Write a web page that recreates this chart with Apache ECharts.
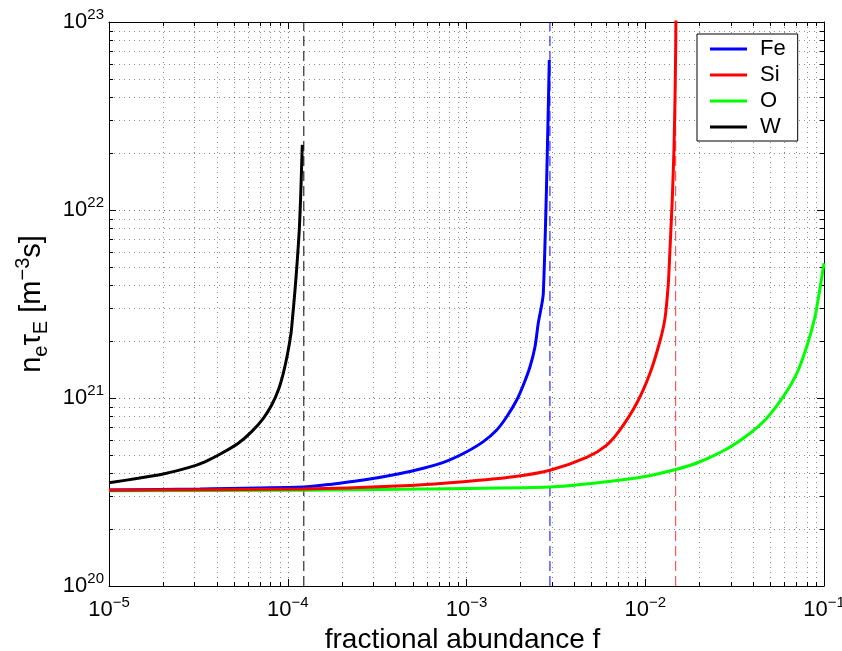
<!DOCTYPE html>
<html>
<head>
<meta charset="utf-8">
<script src="https://cdn.jsdelivr.net/npm/echarts@6/dist/echarts.min.js"></script>
<style>
html,body{margin:0;padding:0;background:#fff;}
#chart{width:842px;height:651px;}
</style>
</head>
<body>
<div id="chart"></div>
<script>
// ---- data ----
const seriesNames = ['Fe', 'Si', 'O', 'W'];

const fFe = [1.0e-5, 3.23e-5, 1.217e-4, 1.723e-4, 2.65e-4, 4.07e-4, 5.73e-4, 7.75e-4, 1.003e-3, 1.242e-3, 1.476e-3, 1.679e-3, 1.91e-3, 2.08e-3, 2.266e-3, 2.417e-3, 2.52e-3, 2.69e-3, 2.905e-3];
const nFe = [3.24e20, 3.28e20, 3.36e20, 3.47e20, 3.66e20, 3.93e20, 4.23e20, 4.62e20, 5.18e20, 5.86e20, 6.76e20, 7.95e20, 9.76e20, 1.173e21, 1.467e21, 1.875e21, 2.50e21, 3.61e21, 6.28e22];

const fSi = [1.0e-5, 1.217e-4, 4.07e-4, 9.60e-4, 1.827e-3, 2.93e-3, 4.70e-3, 6.09e-3, 7.22e-3, 8.96e-3, 1.063e-2, 1.209e-2, 1.29e-2, 1.346e-2, 1.376e-2, 1.417e-2, 1.448e-2, 1.467e-2, 1.48e-2, 1.486e-2];
const nSi = [3.24e20, 3.28e20, 3.40e20, 3.59e20, 3.81e20, 4.13e20, 4.83e20, 5.62e20, 6.76e20, 9.37e20, 1.353e21, 2.01e21, 2.66e21, 4.07e21, 6.25e21, 1.154e22, 2.13e22, 3.93e22, 7.24e22, 1.2e23];

const fO = [1.0e-5, 1.171e-4, 5.50e-4, 2.93e-3, 5.58e-3, 9.75e-3, 1.499e-2, 2.025e-2, 2.856e-2, 3.855e-2, 4.78e-2, 5.92e-2, 7.04e-2, 8.0e-2, 8.91e-2, 9.50e-2, 1.0e-1];
const nO = [3.21e20, 3.23e20, 3.28e20, 3.36e20, 3.55e20, 3.81e20, 4.18e20, 4.58e20, 5.35e20, 6.49e20, 7.80e20, 1.016e21, 1.353e21, 1.875e21, 2.71e21, 3.85e21, 5.21e21];

const fW = [1.0e-5, 1.46e-5, 2.01e-5, 2.78e-5, 3.44e-5, 4.27e-5, 5.29e-5, 6.28e-5, 7.30e-5, 8.13e-5, 8.86e-5, 9.44e-5, 9.99e-5, 1.043e-4, 1.061e-4, 1.098e-4, 1.131e-4, 1.160e-4, 1.181e-4, 1.197e-4, 1.206e-4];
const nW = [3.54e20, 3.74e20, 3.94e20, 4.26e20, 4.58e20, 5.08e20, 5.74e20, 6.62e20, 7.80e20, 9.18e20, 1.103e21, 1.353e21, 1.73e21, 2.21e21, 2.60e21, 3.75e21, 5.42e21, 7.83e21, 1.177e22, 1.77e22, 2.22e22];

// vertical dashed limits
const limitFe = 2.93e-3;
const limitSi = 1.48e-2;
const limitW = 1.23e-4;

// axes
const xMin = 1e-5, xMax = 1e-1;
const yMin = 1e20, yMax = 1e23;
const xDecades = [-5, -4, -3, -2];
const yDecades = [20, 21, 22];
const minorMult = [2, 3, 4, 5, 6, 7, 8, 9];

const colors = {Fe: '#0000ff', Si: '#ff0000', O: '#00ff00', W: '#000000'};
const FONT = '"Liberation Sans", Arial, sans-serif';

// ---- build ----
const zip = (xs, ys) => xs.map((x, i) => [x, ys[i]]);
const minorX = [];
xDecades.forEach(d => minorMult.forEach(m => minorX.push(m * Math.pow(10, d))));
const minorY = [];
yDecades.forEach(d => minorMult.forEach(m => minorY.push(m * Math.pow(10, d))));

function powLabel(v) {
  const e = Math.round(Math.log10(v));
  const s = e < 0 ? '\u2212' + (-e) : String(e);
  return '{b|10}{s|' + s + '}';
}
const labelRich = {
  b: {fontSize: 22, lineHeight: 30, fontFamily: FONT, color: '#000', verticalAlign: 'middle'},
  s: {fontSize: 15, lineHeight: 15, fontFamily: FONT, color: '#000', verticalAlign: 'top'}
};

const gridDot = {color: '#000', width: 1, type: [1, 4], opacity: 0.55};

function curve(name, xs, ys, z) {
  return {
    name: name, type: 'line', data: zip(xs, ys), showSymbol: false, symbol: 'none',
    smooth: 0.25,
    lineStyle: {color: colors[name], width: 3}, itemStyle: {color: colors[name]},
    z: z, clip: true, silent: true, animation: false
  };
}
function limitLine(name, x, color) {
  return {
    name: name, type: 'line', data: [[x, yMin], [x, yMax]], showSymbol: false, symbol: 'none',
    lineStyle: {color: color, width: 1, type: [10, 5]}, z: 1, silent: true, animation: false
  };
}

const minorXSeries = {
  type: 'custom', silent: true, z: 0, animation: false,
  data: minorX.map(v => [v, yMin]),
  encode: {x: 0, y: 1},
  renderItem: function (params, api) {
    const p = api.coord([api.value(0), yMin]);
    const cs = params.coordSys;
    const x = Math.round(p[0]) + 0.5;
    return {type: 'group', children: [
      {type: 'line', shape: {x1: x, y1: cs.y, x2: x, y2: cs.y + cs.height},
       style: {stroke: '#000', lineWidth: 1, lineDash: [1, 4], opacity: 0.45}},
      {type: 'line', shape: {x1: x, y1: cs.y + cs.height, x2: x, y2: cs.y + cs.height - 4},
       style: {stroke: '#000', lineWidth: 1}},
      {type: 'line', shape: {x1: x, y1: cs.y, x2: x, y2: cs.y + 4},
       style: {stroke: '#000', lineWidth: 1}}
    ]};
  }
};
const minorYSeries = {
  type: 'custom', silent: true, z: 0, animation: false,
  data: minorY.map(v => [xMin, v]),
  encode: {x: 0, y: 1},
  renderItem: function (params, api) {
    const p = api.coord([xMin, api.value(1)]);
    const cs = params.coordSys;
    const y = Math.round(p[1]) + 0.5;
    return {type: 'group', children: [
      {type: 'line', shape: {x1: cs.x, y1: y, x2: cs.x + cs.width, y2: y},
       style: {stroke: '#000', lineWidth: 1, lineDash: [1, 4], opacity: 0.45}},
      {type: 'line', shape: {x1: cs.x, y1: y, x2: cs.x + 4, y2: y},
       style: {stroke: '#000', lineWidth: 1}},
      {type: 'line', shape: {x1: cs.x + cs.width, y1: y, x2: cs.x + cs.width - 4, y2: y},
       style: {stroke: '#000', lineWidth: 1}}
    ]};
  }
};

const chart = echarts.init(document.getElementById('chart'), null, {renderer: 'canvas'});
chart.setOption({
  animation: false,
  backgroundColor: '#ffffff',
  textStyle: {fontFamily: FONT, color: '#000'},
  grid: {left: 109, right: 18, top: 22, bottom: 65, containLabel: false, outerBoundsMode: 'none'},
  legend: {
    data: seriesNames, orient: 'vertical', left: 697, top: 34,
    padding: [4, 12, 3, 13], itemWidth: 37, itemHeight: 3, itemGap: 4,
    borderColor: '#000', borderWidth: 1, borderRadius: 0, backgroundColor: '#fff',
    icon: 'rect',
    textStyle: {fontSize: 22, lineHeight: 22, fontFamily: FONT, color: '#000', padding: [0, 0, 0, 8]},
    selectedMode: false, z: 10
  },
  xAxis: [{
    type: 'log', logBase: 10, min: xMin, max: xMax, position: 'bottom',
    name: 'fractional abundance f', nameLocation: 'middle', nameGap: 32,
    nameTextStyle: {fontSize: 28, fontFamily: FONT, color: '#000', padding: [0, 8, 0, 0]},
    axisLine: {show: true, onZero: false, lineStyle: {color: '#000', width: 1}},
    axisTick: {show: true, inside: true, length: 7, lineStyle: {color: '#000'}},
    axisLabel: {margin: 9, formatter: powLabel, rich: labelRich, showMinLabel: true, showMaxLabel: true},
    splitLine: {show: true, lineStyle: gridDot},
    minorTick: {show: false}, minorSplitLine: {show: false}
  }, {
    type: 'log', logBase: 10, min: xMin, max: xMax, position: 'top',
    axisLine: {show: true, onZero: false, lineStyle: {color: '#000', width: 1}},
    axisTick: {show: true, inside: true, length: 7, lineStyle: {color: '#000'}},
    axisLabel: {show: false}, splitLine: {show: false}
  }],
  yAxis: [{
    type: 'log', logBase: 10, min: yMin, max: yMax, position: 'left',
    name: '{b|n}{sub|e}{b|\u03c4}{sub|E}{b| [m}{sup|\u22123}{b|s]}',
    nameLocation: 'middle', nameRotate: 90, nameGap: 58,
    nameTextStyle: {
      fontFamily: FONT, color: '#000',
      rich: {
        b: {fontSize: 29, lineHeight: 38, fontFamily: FONT, color: '#000', verticalAlign: 'middle'},
        sub: {fontSize: 20, lineHeight: 21, fontFamily: FONT, color: '#000', verticalAlign: 'bottom'},
        sup: {fontSize: 20, lineHeight: 21, fontFamily: FONT, color: '#000', verticalAlign: 'top'}
      }
    },
    axisLine: {show: true, onZero: false, lineStyle: {color: '#000', width: 1}},
    axisTick: {show: true, inside: true, length: 7, lineStyle: {color: '#000'}},
    axisLabel: {margin: 5, formatter: powLabel, rich: labelRich, showMinLabel: true, showMaxLabel: true},
    splitLine: {show: true, lineStyle: gridDot}
  }, {
    type: 'log', logBase: 10, min: yMin, max: yMax, position: 'right',
    axisLine: {show: true, onZero: false, lineStyle: {color: '#000', width: 1}},
    axisTick: {show: true, inside: true, length: 7, lineStyle: {color: '#000'}},
    axisLabel: {show: false}, splitLine: {show: false}
  }],
  series: [
    minorXSeries, minorYSeries,
    limitLine('W limit', limitW, '#000000'),
    limitLine('Fe limit', limitFe, '#0000ff'),
    limitLine('Si limit', limitSi, '#ff3333'),
    curve('Fe', fFe, nFe, 3),
    curve('Si', fSi, nSi, 5),
    curve('O', fO, nO, 2),
    curve('W', fW, nW, 6)
  ]
});
</script>
</body>
</html>
